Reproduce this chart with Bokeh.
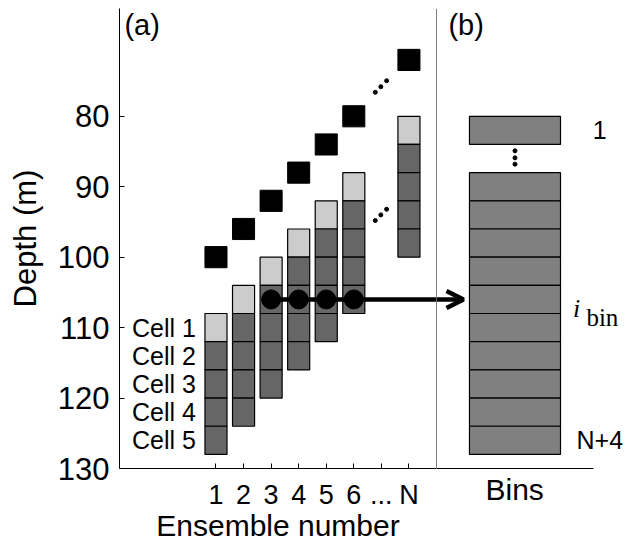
from bokeh.plotting import figure
from bokeh.layouts import row
from bokeh.models import Range1d, FixedTicker, Label, Arrow, OpenHead, Span, Title
from bokeh.embed import file_html
from bokeh.resources import INLINE
from bokeh.core.properties import value

FONT = "Liberation Sans"

# --- ensembles (panel a) ---
ensemble_x = [1, 2, 3, 4, 5, 6, 8]
ensemble_ticks = [1, 2, 3, 4, 5, 6, 7, 8]
ensemble_tick_labels = ["1", "2", "3", "4", "5", "6", "...", "N"]
transducer_depth = [100, 96, 92, 88, 84, 80, 72]      # black squares
first_cell_top = [108, 104, 100, 96, 92, 88, 80]      # top of cell 1 per ensemble
cell_size = 4
cell_names = ["Cell 1", "Cell 2", "Cell 3", "Cell 4", "Cell 5"]
depth_ticks = [80, 90, 100, 110, 120, 130]

# depth of the bin that is averaged across ensembles
bin_depth = 106
bin_ensembles = [3, 4, 5, 6]

# ellipsis dots between ensemble 6 and ensemble N
ellipsis_x = [6.78, 6.98, 7.19]
ellipsis_upper_depth = [76.6, 75.8, 74.95]
ellipsis_lower_depth = [94.8, 94.0, 93.2]

# --- bins (panel b) ---
bin_tops = [80, 88, 92, 96, 100, 104, 108, 112, 116, 120, 124]
bin_size = 4
bin_gap_dots = [84.9, 85.9, 86.8]
bin_first_label = "1"
bin_last_label = "N+4"

DEPTH_MIN, DEPTH_MAX = 64.7, 130

# ---------------- panel (a) ----------------
pa = figure(frame_width=317, frame_height=460,
            x_range=Range1d(-2.5, 9), y_range=Range1d(DEPTH_MAX, DEPTH_MIN),
            output_backend="svg", toolbar_location=None,
            min_border_left=119, min_border_right=0,
            min_border_top=8, min_border_bottom=80)
pa.grid.visible = False
pa.outline_line_color = None
pa.background_fill_color = "white"
pa.border_fill_color = "white"

# cells of each ensemble profile
lefts, rights, tops, bottoms, fills = [], [], [], [], []
for x, top in zip(ensemble_x, first_cell_top):
    for k in range(len(cell_names)):
        lefts.append(x - 0.4)
        rights.append(x + 0.4)
        tops.append(top + k * cell_size)
        bottoms.append(top + (k + 1) * cell_size)
        fills.append("#cccccc" if k == 0 else "#666666")
pa.quad(left=lefts, right=rights, top=tops, bottom=bottoms,
        fill_color=fills, line_color="black", line_width=1.2)

# transducer positions
pa.rect(x=ensemble_x, y=transducer_depth, width=0.8, height=3,
        fill_color="black", line_color="black")

# cell names beside the first profile
cell_centers = [first_cell_top[0] + (k + 0.5) * cell_size for k in range(len(cell_names))]
pa.text(x=[0.27] * len(cell_names), y=cell_centers, text=cell_names,
        text_align="right", text_baseline="middle",
        text_font=value(FONT), text_font_size="25px", text_color="black")

# averaged bin across ensembles
pa.line(x=[bin_ensembles[0], 9], y=[bin_depth, bin_depth], line_width=4.5, line_color="black")
pa.scatter(x=bin_ensembles, y=[bin_depth] * len(bin_ensembles), size=19,
           fill_color="black", line_color="black")

pa.scatter(x=ellipsis_x, y=ellipsis_upper_depth, size=4, color="black")
pa.scatter(x=ellipsis_x, y=ellipsis_lower_depth, size=4, color="black")

pa.xaxis.ticker = FixedTicker(ticks=ensemble_ticks)
pa.xaxis.major_label_overrides = {t: l for t, l in zip(ensemble_ticks, ensemble_tick_labels)}
pa.yaxis.ticker = FixedTicker(ticks=depth_ticks)
pa.xaxis.axis_label = "Ensemble number"
pa.yaxis.axis_label = "Depth (m)"
for ax in (pa.xaxis[0], pa.yaxis[0]):
    ax.axis_line_color = "black"
    ax.major_tick_line_color = "black"
    ax.major_tick_in = 5
    ax.major_tick_out = 0
    ax.minor_tick_line_color = None
    ax.major_label_text_font = FONT
    ax.axis_label_text_font = FONT
    ax.axis_label_text_font_style = "normal"
    ax.major_label_text_color = "black"
    ax.axis_label_text_color = "black"
pa.xaxis.major_label_text_font_size = "27px"
pa.xaxis.axis_label_text_font_size = "30px"
pa.xaxis.major_label_standoff = 11
pa.xaxis.axis_label_standoff = -4
pa.yaxis.major_label_text_font_size = "31px"
pa.yaxis.axis_label_text_font_size = "31px"
pa.yaxis.major_label_standoff = 10
pa.yaxis.axis_label_standoff = 12

pa.add_layout(Label(x=-2.32, y=67.1, text="(a)", text_font=FONT, text_font_size="29px",
                    text_baseline="middle", text_align="left", text_color="black"))

# ---------------- panel (b) ----------------
pb = figure(frame_width=197, frame_height=460,
            x_range=Range1d(0, 12.55), y_range=pa.y_range,
            output_backend="svg", toolbar_location=None,
            min_border_left=0, min_border_right=0,
            min_border_top=8, min_border_bottom=80)
pb.grid.visible = False
pb.outline_line_color = None
pb.yaxis.visible = False
pb.background_fill_color = "white"
pb.border_fill_color = "white"

pb.quad(left=[2.1] * len(bin_tops), right=[7.9] * len(bin_tops),
        top=bin_tops, bottom=[t + bin_size for t in bin_tops],
        fill_color="#808080", line_color="black", line_width=1.2)
pb.scatter(x=[5] * len(bin_gap_dots), y=bin_gap_dots, size=4, color="black")

pb.add_layout(Span(location=0, dimension="height", line_color="black", line_width=1))

pb.add_layout(Arrow(end=OpenHead(size=17, line_width=4.5, line_color="black"),
                    x_start=0, y_start=bin_depth, x_end=1.72, y_end=bin_depth,
                    line_width=4.5, line_color="black"))

pb.xaxis.ticker = FixedTicker(ticks=[])
pb.xaxis.bounds = (0, 10)
pb.xaxis.axis_line_color = "black"
pb.xaxis.major_tick_line_color = None
pb.xaxis.minor_tick_line_color = None

# axis title placed under the bins column
pb.add_layout(Title(text="Bins", align="left", offset=49, text_font=FONT,
                    text_font_style="normal", text_font_size="30px",
                    text_color="black", standoff=4), "below")

pb.add_layout(Label(x=0.76, y=67.1, text="(b)", text_font=FONT, text_font_size="29px",
                    text_baseline="middle", text_align="left", text_color="black"))
pb.add_layout(Label(x=10.4, y=bin_tops[0] + bin_size / 2, text=bin_first_label,
                    text_font=FONT, text_font_size="25px", text_align="center",
                    text_baseline="middle", text_color="black"))
pb.add_layout(Label(x=10.4, y=bin_tops[-1] + bin_size / 2, text=bin_last_label,
                    text_font=FONT, text_font_size="25px", text_align="center",
                    text_baseline="middle", text_color="black"))
pb.add_layout(Label(x=8.7, y=107.3, text="i", text_font="Liberation Serif",
                    text_font_style="italic", text_font_size="26px",
                    text_baseline="alphabetic", text_color="black"))
pb.add_layout(Label(x=9.55, y=108.5, text="bin", text_font="Liberation Serif",
                    text_font_size="25px", text_baseline="alphabetic", text_color="black"))

layout = row(pa, pb, spacing=0)
open("out.html", "w").write(file_html(layout, INLINE))
